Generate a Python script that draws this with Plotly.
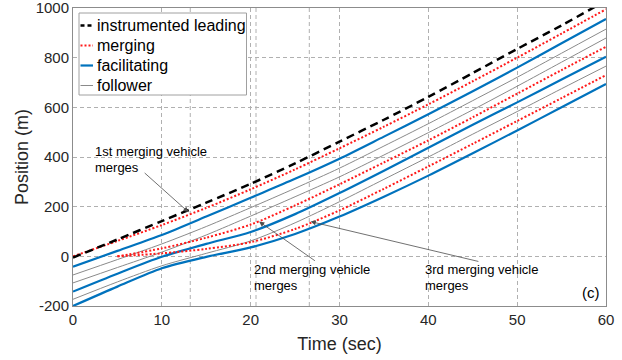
import plotly.graph_objects as go

# Time grids (s)
t_main = [0, 5, 10, 15, 20, 25, 30, 35, 40, 45, 50, 55, 60]
t_ramp = [5, 10, 15, 20, 25, 30, 35, 40, 45, 50, 55, 60]

# Vehicle positions (m)
lead = [-5, 68, 142, 216, 292, 374, 462, 550, 642, 738, 835, 930, 1030]
merge1 = [0, 62, 126, 195, 270, 350, 435, 522, 612, 705, 800, 897, 995]
fac1 = [-42, 22, 86, 160, 236, 312, 393, 482, 572, 665, 760, 858, 956]
fol1a = [-75, -13, 50, 120, 196, 274, 355, 444, 534, 627, 721, 818, 915]
fol1b = [-107, -45, 17, 86, 162, 240, 320, 408, 498, 590, 685, 782, 879]
merge2 = [0, 32, 75, 128, 205, 290, 378, 467, 560, 655, 750, 844]
fac2 = [-142, -70, -2, 50, 98, 170, 255, 345, 437, 530, 620, 712, 804]
fol2 = [-173, -103, -38, 12, 62, 135, 220, 310, 400, 492, 583, 675, 766]
merge3 = [0, 12, 30, 57, 110, 185, 272, 362, 453, 545, 637, 730]
fac3 = [-200, -122, -48, -2, 36, 90, 160, 240, 325, 415, 507, 600, 694]

# Axis ticks
x_ticks = [0, 10, 20, 30, 40, 50, 60]
y_ticks = [-200, 0, 200, 400, 600, 800, 1000]
y_tick_text = ["-200", "0", "200", "400", "600", "800", "1000"]

# Merge instants (s) and merge points for the arrows
merge_times = [13.2, 20.6, 26.6]
arrow_tips = [(13.0, 178), (20.95, 140), (26.75, 140)]
arrow_tails = [(7.9, 341), (27.4, -22), (45.8, -22)]

legend_names = ["instrumented leading", "merging", "facilitating", "follower"]

FONT = "Liberation Sans, Arial, Helvetica, sans-serif"
TXT = "#262626"

styles = {
    "lead": dict(color="black", width=2.5, dash="8px,5px"),
    "merge": dict(color="#ff1a1a", width=2, dash="2px,2px"),
    "fac": dict(color="#0072BD", width=2.2),
    "fol": dict(color="#8a8a8a", width=1),
}

fig = go.Figure()

def add(x, y, key):
    fig.add_trace(go.Scatter(x=x, y=y, mode="lines", line=dict(shape="spline", smoothing=0.8, **styles[key]),
                             showlegend=False, hoverinfo="skip"))

# followers first so the highlighted vehicles sit on top
for y in (fol1a, fol1b, fol2):
    add(t_main, y, "fol")
for y in (fac1, fac2, fac3):
    add(t_main, y, "fac")
add(t_main, merge1, "merge")
add(t_ramp, merge2, "merge")
add(t_ramp, merge3, "merge")
add(t_main, lead, "lead")

shapes = []
# vertical markers at the merge instants
for tm in merge_times:
    shapes.append(dict(type="line", xref="x", yref="paper", x0=tm, x1=tm, y0=0, y1=1,
                       line=dict(color="#b0b0b0", width=1, dash="4px,3px"), layer="below"))

# legend box (plot-area pixel geometry: 533 x 298)
W, H = 533.0, 298.0
def px(x):
    return (x - 73) / W
def py(y):
    return (306 - y) / H

shapes.append(dict(type="rect", xref="paper", yref="paper", x0=px(79), x1=px(246.5), y0=py(95), y1=py(13),
                   line=dict(color="#a0a0a0", width=1), fillcolor="white", layer="above"))
row_y = [25.5, 45.5, 65.5, 85.5]
sample_styles = [styles["lead"], styles["merge"], styles["fac"], styles["fol"]]
annotations = []
for name, ry, st in zip(legend_names, row_y, sample_styles):
    st = dict(st)
    if st.get("dash") == "8px,5px":
        st["dash"] = "4px,3px"
    shapes.append(dict(type="line", xref="paper", yref="paper", x0=px(80.5), x1=px(93), y0=py(ry), y1=py(ry),
                       line=st, layer="above"))
    annotations.append(dict(xref="paper", yref="paper", x=px(94.5), y=py(ry), text=name, showarrow=False,
                            xanchor="left", yanchor="middle", font=dict(size=16, color="black", family=FONT)))

# merge annotations with arrows
for (xt, yt), (xa, ya) in zip(arrow_tips, arrow_tails):
    annotations.append(dict(x=xt, y=yt, ax=xa, ay=ya, xref="x", yref="y", axref="x", ayref="y", text="",
                            showarrow=True, arrowhead=2, arrowsize=1.3, arrowwidth=0.8, arrowcolor="#4d4d4d"))

labels = [("1st merging vehicle", "merges", 2.25, 424, 356),
          ("2nd merging vehicle", "merges", 20.2, -53, -117),
          ("3rd merging vehicle", "merges", 39.4, -53, -117)]
for l1, l2, xx, y1, y2 in labels:
    for txt, yy in ((l1, y1), (l2, y2)):
        annotations.append(dict(x=xx, y=yy, xref="x", yref="y", text=txt, showarrow=False, xanchor="left",
                                yanchor="middle", font=dict(size=13, color="black", family=FONT)))
annotations.append(dict(x=59.6, y=-144, xref="x", yref="y", text="(c)", showarrow=False, xanchor="right",
                        yanchor="middle", font=dict(size=15, color="black", family=FONT)))

axis_common = dict(showline=True, linecolor="#8c8c8c", linewidth=1, mirror=True, zeroline=False,
                   showgrid=True, gridcolor="#b0b0b0", gridwidth=1, griddash="4px,3px",
                   ticks="", ticklabeloverflow="allow", automargin=False,
                   tickfont=dict(size=15, color=TXT, family=FONT))

fig.update_layout(
    width=622, height=360,
    margin=dict(l=73, r=16, t=8, b=54),
    paper_bgcolor="white", plot_bgcolor="white",
    showlegend=False,
    xaxis=dict(range=[0, 60], tickvals=x_ticks,
               title=dict(text="Time (sec)", font=dict(size=18, color=TXT, family=FONT), standoff=10),
               **axis_common),
    yaxis=dict(range=[-200, 1000], tickvals=y_ticks, ticktext=y_tick_text,
               title=dict(text="Position (m)", font=dict(size=18, color=TXT, family=FONT), standoff=2),
               **axis_common),
    shapes=shapes,
    annotations=annotations,
)

fig.write_html("out.html")
